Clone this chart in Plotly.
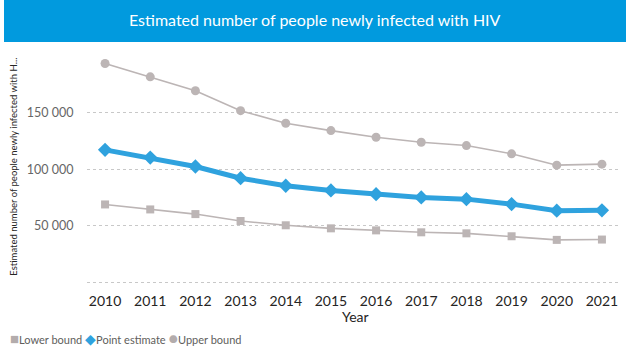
import plotly.graph_objects as go

years = [2010, 2011, 2012, 2013, 2014, 2015, 2016, 2017, 2018, 2019, 2020, 2021]
lower_bound = [68900, 64500, 60400, 54300, 50500, 47800, 46000, 44300, 43400, 40800, 37600, 37900]
point_estimate = [117100, 110300, 102400, 92100, 85400, 81300, 78000, 75100, 73600, 69200, 63400, 63700]
upper_bound = [193400, 181600, 169300, 151700, 140600, 134100, 128200, 123800, 120900, 113600, 103600, 104500]

y_tickvals = [0, 50000, 100000, 150000]
y_ticktext = ["", "50 000", "100 000", "150 000"]

title_text = "Estimated number of people newly infected with HIV"
y_title = "Estimated number of people newly infected with H..."
x_title = "Year"

GRAY = "#BCB5B5"
BLUE = "#2FA2DE"
FONT = "Segoe UI, Lato, Noto Sans, sans-serif"

W, H = 627, 351
L, R, T, B = 87, 7, 56, 63.5
pw = W - L - R
ph = H - T - B

def px(x):
    return (x - L) / pw

def py(y):
    return (H - B - y) / ph

fig = go.Figure()
fig.add_trace(go.Scatter(x=years, y=upper_bound, mode="lines+markers", name="Upper bound",
                         line=dict(color=GRAY, width=1.6),
                         marker=dict(symbol="circle", size=9, color=GRAY)))
fig.add_trace(go.Scatter(x=years, y=lower_bound, mode="lines+markers", name="Lower bound",
                         line=dict(color=GRAY, width=1.6),
                         marker=dict(symbol="square", size=8, color=GRAY)))
fig.add_trace(go.Scatter(x=years, y=point_estimate, mode="lines+markers", name="Point estimate",
                         line=dict(color=BLUE, width=5),
                         marker=dict(symbol="diamond", size=11, color=BLUE)))

leg = ("<span style='color:#B3ACAC;font-size:15px'>■</span>Lower bound "
       "<span style='color:%s;font-size:14px'>◆</span>Point estimate "
       "<span style='color:#B3ACAC;font-size:16px'>●</span>Upper bound") % BLUE

fig.update_layout(
    width=W, height=H,
    margin=dict(l=L, r=R, t=T, b=B, pad=0),
    paper_bgcolor="white", plot_bgcolor="white",
    showlegend=False,
    font=dict(family=FONT),
    shapes=[dict(type="rect", xref="paper", yref="paper",
                 x0=px(4), x1=px(626), y0=py(42), y1=py(0),
                 fillcolor="#019ADE", line=dict(width=0), layer="above")],
    annotations=[
        dict(text=title_text, xref="paper", yref="paper", x=px(315), y=py(19),
             xanchor="center", yanchor="middle", showarrow=False,
             font=dict(size=16, color="white", family=FONT)),
        dict(text=y_title, xref="paper", yref="paper", x=px(14), y=py(167),
             xanchor="center", yanchor="middle", textangle=-90, showarrow=False,
             font=dict(size=9.5, color="#252423", family=FONT)),
        dict(text=x_title, xref="paper", yref="paper", x=px(355), y=py(317),
             xanchor="center", yanchor="middle", showarrow=False,
             font=dict(size=14, color="#252423", family=FONT)),
        dict(text=leg,
             xref="paper", yref="paper", x=px(8), y=py(338),
             xanchor="left", yanchor="middle", showarrow=False,
             font=dict(size=11, color="#605E5C", family=FONT)),
    ],
)

fig.update_xaxes(range=[2009.6, 2021.4], tickvals=years, ticktext=[str(y) for y in years],
                 showgrid=False, zeroline=False, showline=False,
                 tickfont=dict(size=14, color="#252423", family=FONT),
                 ticks="outside", ticklen=1, tickcolor="rgba(0,0,0,0)")
fig.update_yaxes(range=[-4000, 200000], tickvals=y_tickvals, ticktext=y_ticktext,
                 showgrid=True, gridcolor="#C8C8C8", griddash="dot", gridwidth=1,
                 zeroline=False, showline=False,
                 tickfont=dict(size=12.5, color="#666666", family=FONT),
                 ticks="outside", ticklen=10, tickcolor="rgba(0,0,0,0)")

fig.write_html("out.html")
